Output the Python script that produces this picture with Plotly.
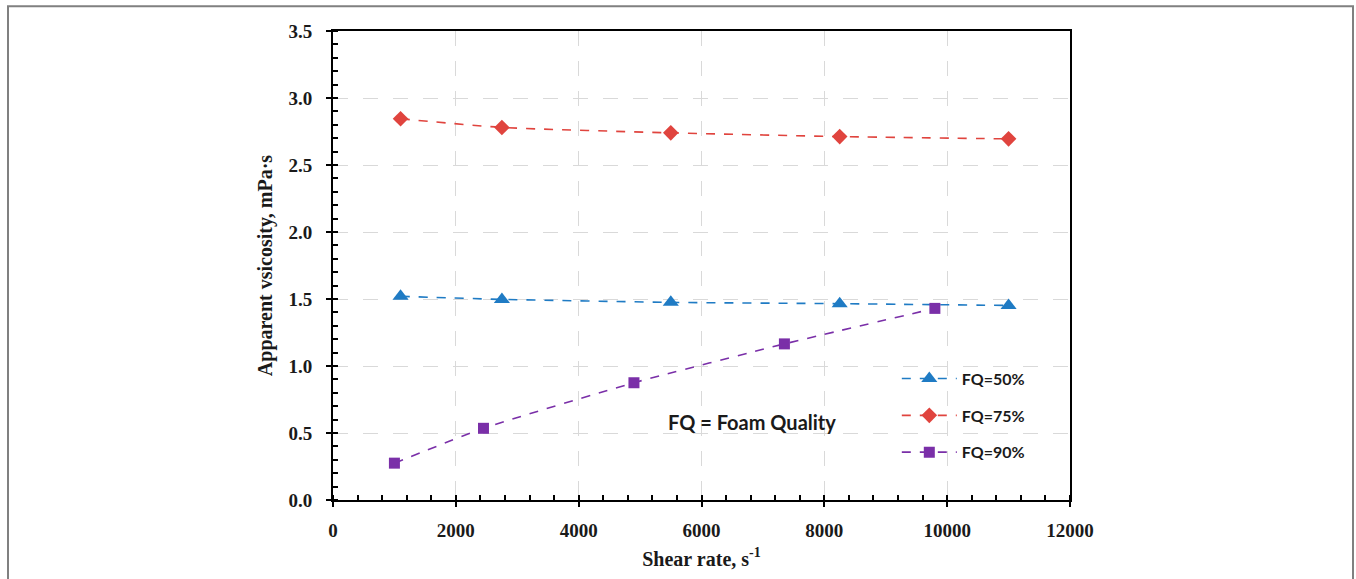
import plotly.graph_objects as go

# Data
shear_50 = [1100, 2750, 5500, 8250, 11000]
visc_50 = [1.52, 1.497, 1.475, 1.465, 1.452]
shear_75 = [1100, 2750, 5500, 8250, 11000]
visc_75 = [2.845, 2.78, 2.74, 2.712, 2.695]
shear_90 = [1000, 2450, 4900, 7350, 9800]
visc_90 = [0.275, 0.535, 0.875, 1.165, 1.43]

names = ["FQ=50%", "FQ=75%", "FQ=90%"]
x_ticks = [0, 2000, 4000, 6000, 8000, 10000, 12000]
y_ticks = [0.0, 0.5, 1.0, 1.5, 2.0, 2.5, 3.0, 3.5]

fig = go.Figure()
series = [
    (shear_50, visc_50, names[0], "#1f7bc4", "triangle-up", 14),
    (shear_75, visc_75, names[1], "#e0443e", "diamond", 12),
    (shear_90, visc_90, names[2], "#7a2fa8", "square", 11),
]
for i, (xs, ys, nm, col, sym, sz) in enumerate(series):
    fig.add_trace(go.Scatter(
        x=xs, y=ys, name=nm, mode="lines+markers",
        line=dict(color=col, width=1.6, dash="dash", shape="spline", smoothing=0.5),
        marker=dict(symbol=sym, size=sz, color=col),
        legendgroup=str(i),
    ))

serif = "Liberation Serif"
fig.add_annotation(x=6820, y=0.585, text="<b>FQ = Foam Quality</b>", showarrow=False,
                   font=dict(family="Lato", size=20, color="#1a1a1a"))

axis_common = dict(
    showline=True, linecolor="black", linewidth=2, mirror=True,
    ticks="outside", ticklen=5, tickwidth=1.5, tickcolor="black",
    showgrid=True, gridcolor="#d9d9d9", griddash="longdash", gridwidth=1.2,
    zeroline=False,
    tickfont=dict(family=serif, size=19, color="#1a1a1a", weight="bold"),
)
fig.update_xaxes(
    **axis_common, range=[0, 12000], tickvals=x_ticks,
    ticktext=[str(v) for v in x_ticks],
    minor=dict(dtick=400, tick0=0, ticks="inside", ticklen=5, tickwidth=1.5, tickcolor="black", showgrid=False),
    title=dict(text="<b>Shear rate, s<sup>-1</sup></b>", font=dict(family=serif, size=20, color="#1a1a1a"), standoff=12),
    ticklabelstandoff=7,
)
fig.update_yaxes(
    **axis_common, range=[0, 3.5], tickvals=y_ticks,
    ticktext=[f"{v:.1f}" for v in y_ticks],
    minor=dict(dtick=0.1, tick0=0, ticks="inside", ticklen=5, tickwidth=1.5, tickcolor="black", showgrid=False),
    title=dict(text="<b>Apparent vsicosity, mPa·s</b>", font=dict(family=serif, size=20, color="#1a1a1a"), standoff=10),
    ticklabelstandoff=10,
)
fig.update_layout(
    width=1356, height=579,
    margin=dict(l=333, r=286, t=31, b=76),
    plot_bgcolor="white", paper_bgcolor="white",
    showlegend=True,
    legend=dict(x=0.765, y=0.295, xanchor="left", yanchor="top",
                bgcolor="rgba(0,0,0,0)", tracegroupgap=13, itemwidth=55,
                font=dict(family="Lato", size=16, color="#1a1a1a", weight="bold")),
)
fig.add_shape(type="rect", xref="paper", yref="paper",
              x0=(8 - 333) / 737, x1=(1353 - 333) / 737,
              y0=(503 - 600) / 472, y1=(503 - 6) / 472,
              line=dict(color="#808080", width=2), layer="below")
fig.write_html("out.html")
